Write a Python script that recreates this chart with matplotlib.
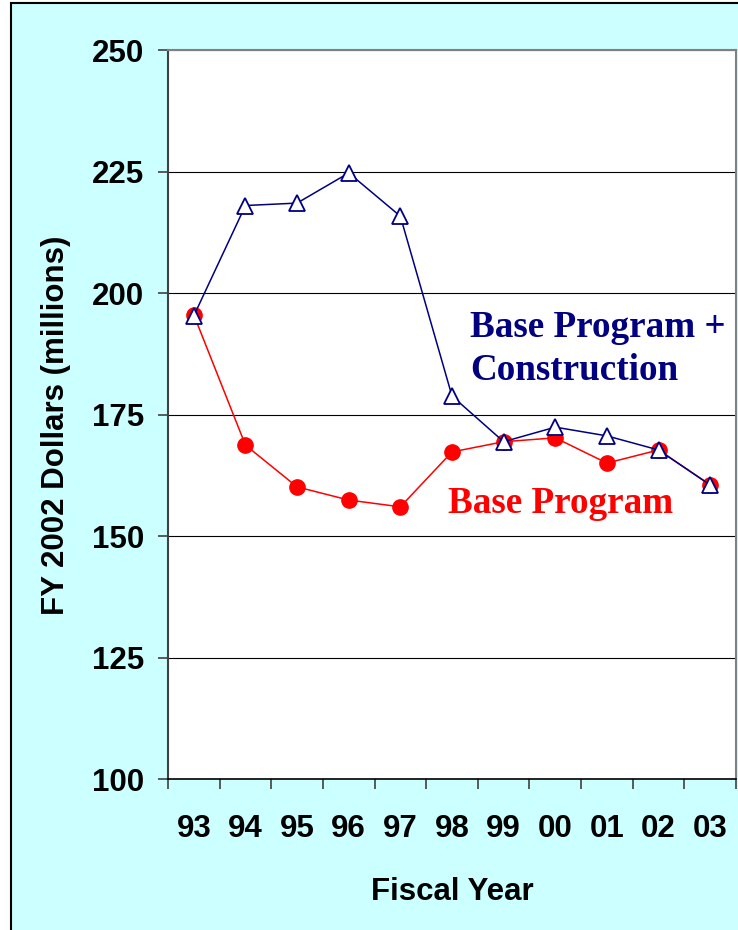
import matplotlib.pyplot as plt
from matplotlib.patches import Rectangle

# Fiscal years and funding (FY 2002 dollars, millions)
years = ['93', '94', '95', '96', '97', '98', '99', '00', '01', '02', '03']
base_plus_construction = [195.3, 218.0, 218.5, 224.7, 215.8, 178.8, 169.4, 172.4, 170.6, 167.7, 160.5]
base_program = [195.5, 168.7, 160.1, 157.4, 156.0, 167.3, 169.4, 170.2, 165.0, 167.7, 160.5]

bg = '#CCFFFF'
navy = '#000080'
red = '#FF0000'

fig = plt.figure(figsize=(7.38, 9.3), dpi=100)
fig.patch.set_facecolor('white')
# cyan panel with black frame on left/top
fig.patches.append(Rectangle((11 / 738, -0.01), 1.0, 1.0 - 3 / 930 + 0.01,
                             transform=fig.transFigure, facecolor=bg,
                             edgecolor='black', linewidth=1.5, zorder=-10))

ax = fig.add_axes([168 / 738, 151 / 930, 568 / 738, 729 / 930])
ax.set_facecolor('white')

x = list(range(len(years)))
ax.plot(x, base_program, color=red, lw=1.1, marker='o', ms=11,
        mfc=red, mec=red, zorder=3)
ax.plot(x, base_plus_construction, color=navy, lw=1.1, marker='^', ms=11.5,
        mfc='white', mec=navy, mew=1.3, zorder=4)

ax.set_xlim(-0.5, len(years) - 0.5)
ax.set_ylim(100, 250)
ax.set_yticks([100, 125, 150, 175, 200, 225, 250])
ax.set_xticks(x)
ax.set_xticklabels(years)
ax.set_xticks([i - 0.5 for i in range(len(years) + 1)], minor=True)

ax.yaxis.grid(True, color='black', lw=0.8)
ax.set_axisbelow(True)

ax.tick_params(axis='y', length=7, width=1.2, pad=10, labelsize=22.5, color='#404040')
ax.tick_params(axis='x', which='major', length=0, pad=25, labelsize=22.5)
ax.tick_params(axis='x', which='minor', length=7, width=1.2, color='#404040')
for lab in ax.get_xticklabels() + ax.get_yticklabels():
    lab.set_fontweight('bold')
    lab.set_family('Liberation Sans')

for s in ['top', 'right']:
    ax.spines[s].set_color('#808080')
    ax.spines[s].set_linewidth(1.5)
ax.spines['left'].set_color('#404040')
ax.spines['left'].set_linewidth(1.5)
ax.spines['bottom'].set_color('black')
ax.spines['bottom'].set_linewidth(1.2)

ax.set_ylabel('FY 2002 Dollars (millions)', fontsize=22.5, fontweight='bold',
              family='Liberation Sans')
ax.yaxis.set_label_coords(-0.17, 0.485)
ax.set_xlabel('Fiscal Year', fontsize=22.5, fontweight='bold',
              family='Liberation Sans', labelpad=24)

ax.text(5.35, 190.9, 'Base Program +', color=navy, fontsize=26.7,
        fontweight='bold', family='Liberation Serif', va='baseline')
ax.text(5.35, 182.1, 'Construction', color=navy, fontsize=26.7,
        fontweight='bold', family='Liberation Serif', va='baseline')
ax.text(4.92, 154.7, 'Base Program', color=red, fontsize=26.7,
        fontweight='bold', family='Liberation Serif', va='baseline')

fig.savefig('out.png', dpi=100)
